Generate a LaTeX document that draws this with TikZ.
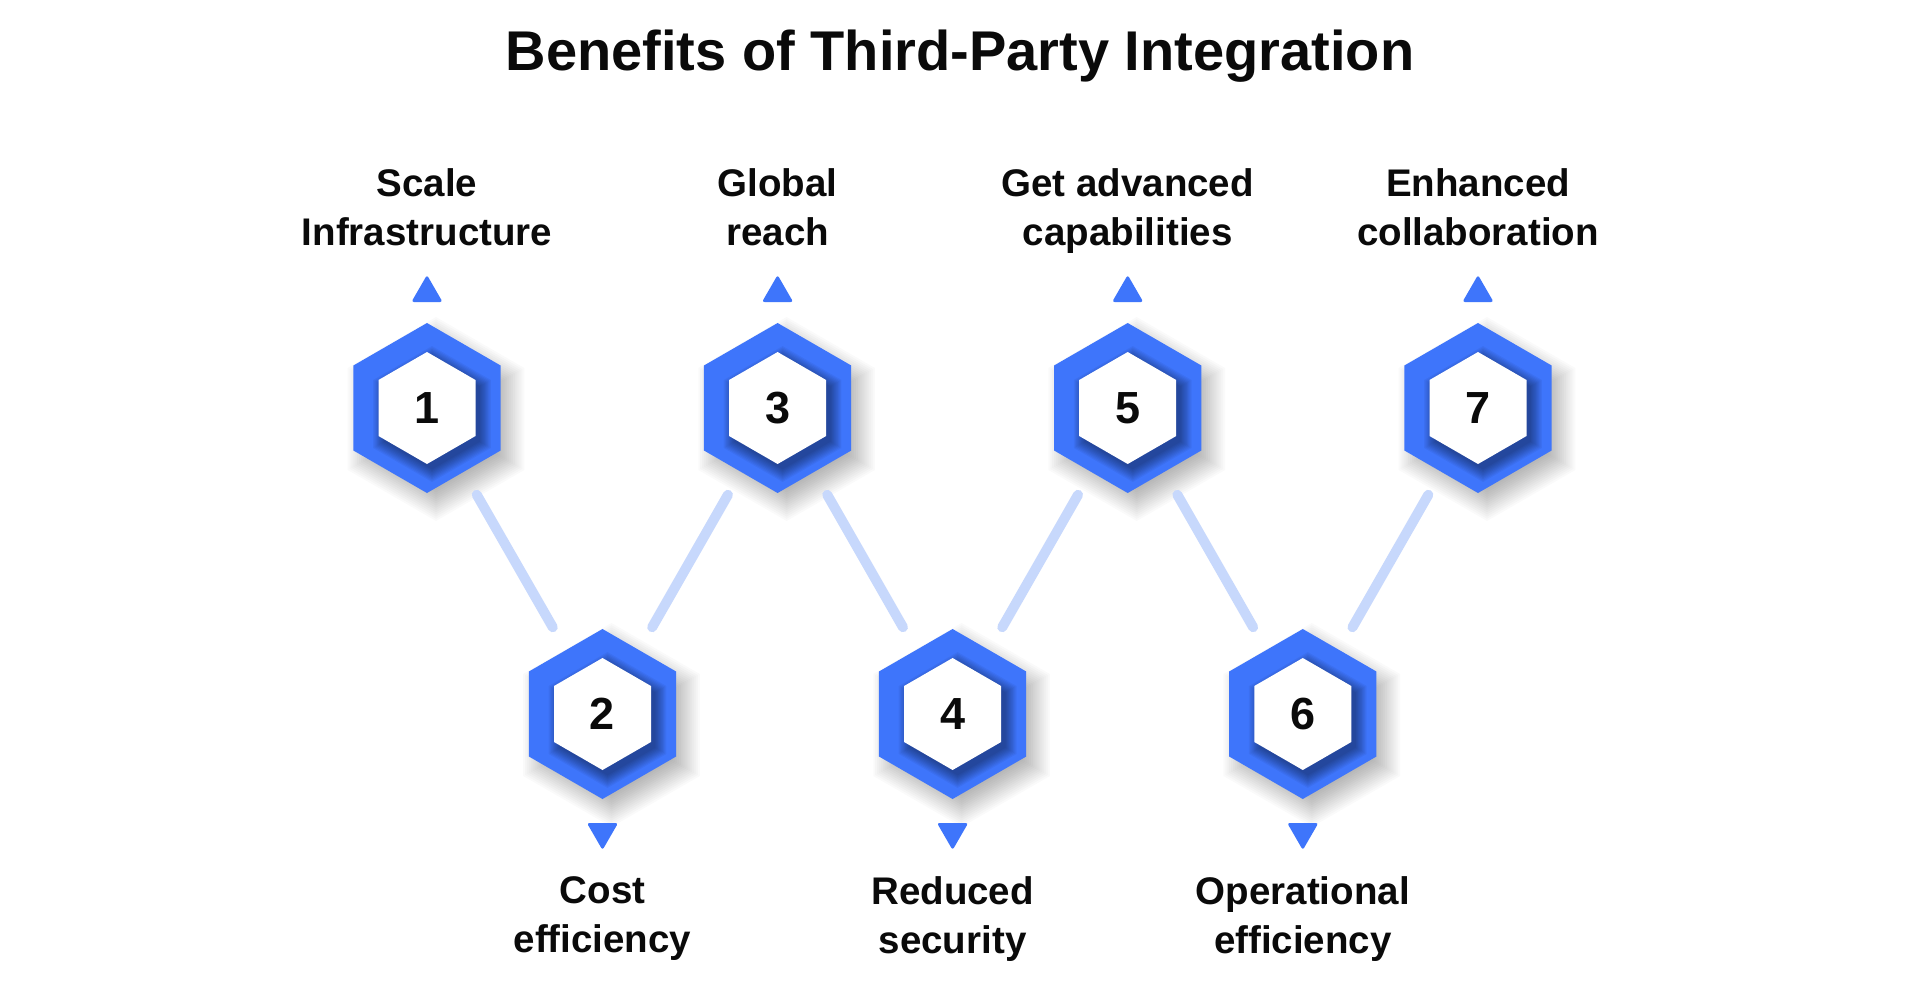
\documentclass[tikz,border=0pt]{standalone}
\usepackage{fontspec}
\setmainfont{Liberation Sans}
\usetikzlibrary{shapes.geometric,calc}
\definecolor{hexblue}{HTML}{3E75FB}
\definecolor{connblue}{HTML}{C7D8FC}
\definecolor{txt}{HTML}{0A0A0A}
\tikzset{
 hexout/.style={regular polygon, regular polygon sides=6, shape border rotate=30, minimum size=170pt, inner sep=0pt, fill=hexblue},
 hexin/.style={regular polygon, regular polygon sides=6, shape border rotate=30, minimum size=112pt, inner sep=0pt, fill=white,
   font=\fontsize{45}{50}\selectfont\bfseries, text=txt},
 conn/.style={connblue, line width=10pt, line cap=round},
 triup/.style={regular polygon, regular polygon sides=3, minimum size=36pt, inner sep=0pt, fill=hexblue, rounded corners=2.5pt},
 tridown/.style={triup, shape border rotate=180},
 lbl/.style={align=center, anchor=north, inner sep=0pt, text=txt, font=\fontsize{38.5}{49}\selectfont\bfseries},
}
% hexagon path centred at (#1,#2), circumradius #3
\newcommand\myhexpath[3]{(#1,#2) ++(30:#3) -- ($(#1,#2)+(90:#3)$) -- ($(#1,#2)+(150:#3)$) -- ($(#1,#2)+(210:#3)$) -- ($(#1,#2)+(270:#3)$) -- ($(#1,#2)+(330:#3)$) -- cycle}
% one numbered hexagon with its shadows
\newcommand\myhexunit[4]{%
  \foreach \k in {0,...,15}{\fill[black, opacity=0.02] \myhexpath{#2+9}{#3+11}{102-2.2*\k};}
  \node[hexout] (h#1) at (#2,#3) {};
  \begin{scope}
    \clip \myhexpath{#2}{#3}{85};
    \foreach \k in {0,...,9}{\fill[black, opacity=0.045] \myhexpath{#2+5}{#3+6}{68-1.4*\k};}
  \end{scope}
  \node[hexin] (i#1) at (h#1) {#4};
}
\begin{document}
\begin{tikzpicture}[x=1pt,y=-1pt]
\fill[white] (0,0) rectangle (1920,983);
\useasboundingbox (0,0) rectangle (1920,983);

\node[font=\fontsize{56}{60}\selectfont\bfseries, text=txt, anchor=base, inner sep=0pt] (title) at (960,70) {Benefits of Third-Party Integration};

% hexagons
\myhexunit{1}{427}{408}{1}
\myhexunit{2}{602.5}{714}{2}
\myhexunit{3}{777.6}{408}{3}
\myhexunit{4}{952.6}{714}{4}
\myhexunit{5}{1127.7}{408}{5}
\myhexunit{6}{1302.8}{714}{6}
\myhexunit{7}{1478}{408}{7}

% connectors
\draw[conn] ($(h1)!100pt!(h2)$) -- ($(h2)!100pt!(h1)$);
\draw[conn] ($(h2)!100pt!(h3)$) -- ($(h3)!100pt!(h2)$);
\draw[conn] ($(h3)!100pt!(h4)$) -- ($(h4)!100pt!(h3)$);
\draw[conn] ($(h4)!100pt!(h5)$) -- ($(h5)!100pt!(h4)$);
\draw[conn] ($(h5)!100pt!(h6)$) -- ($(h6)!100pt!(h5)$);
\draw[conn] ($(h6)!100pt!(h7)$) -- ($(h7)!100pt!(h6)$);

% triangles
\node[triup] (t1) at (427,293) {};
\node[triup] (t3) at (777.6,293) {};
\node[triup] (t5) at (1127.7,293) {};
\node[triup] (t7) at (1478,293) {};
\node[tridown] (t2) at (602.5,832) {};
\node[tridown] (t4) at (952.6,832) {};
\node[tridown] (t6) at (1302.8,832) {};

% labels
\node[lbl] (l1) at (427,168) {Scale\\Infrastructure};
\node[lbl] (l3) at (777.6,168) {Global\\reach};
\node[lbl] (l5) at (1127.7,168) {Get advanced\\capabilities};
\node[lbl] (l7) at (1478,168) {Enhanced\\collaboration};
\node[lbl] (l2) at (602.5,876) {Cost\\efficiency};
\node[lbl] (l4) at (952.6,876) {Reduced\\security};
\node[lbl] (l6) at (1302.8,876) {Operational\\efficiency};
\end{tikzpicture}
\end{document}
